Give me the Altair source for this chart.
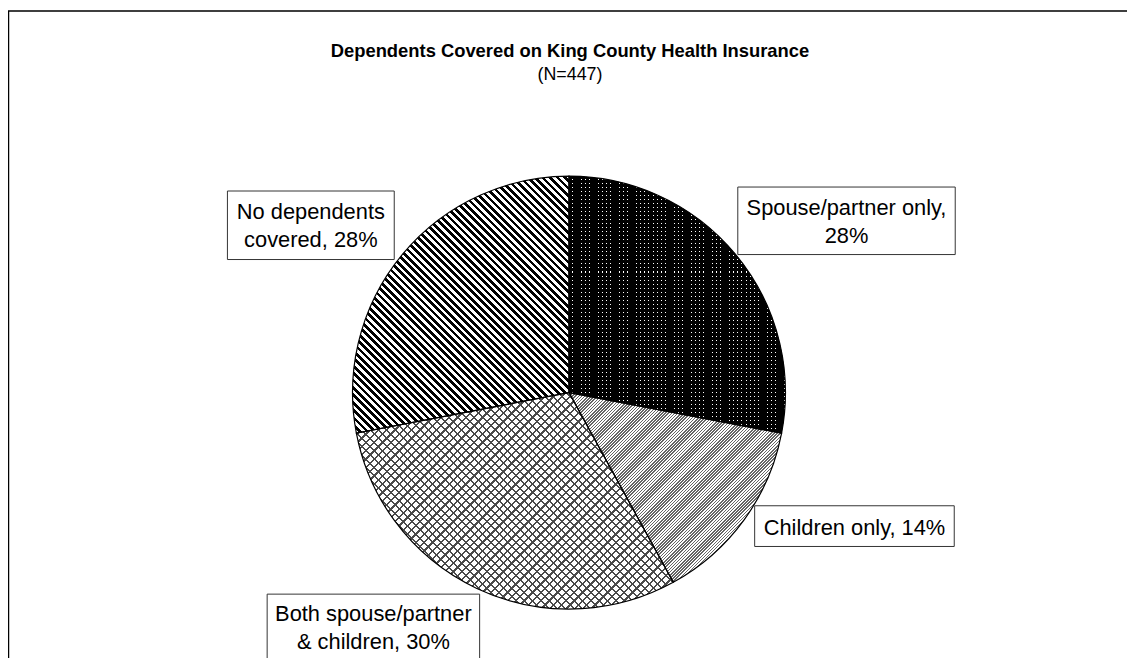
import math
import pandas as pd
import altair as alt

# ---------------- data ----------------
categories = ["Spouse/partner only", "Children only",
              "Both spouse/partner & children", "No dependents covered"]
percents = [28, 14, 30, 28]
label_texts = ["Spouse/partner only,\n28%", "Children only, 14%",
               "Both spouse/partner\n& children, 30%", "No dependents\ncovered, 28%"]
title_text = "Dependents Covered on King County Health Insurance"
subtitle_text = "(N=447)"

# ---------------- layout / style ----------------
W, H = 1127, 650
CX, CY, R = 565, 385, 218
label_boxes = [(735, 178, 954, 246), (752, 499, 953, 540),
               (261, 588, 475, 660), (221, 182, 389, 251)]
label_anchor = [(844.5, 206), (852.5, 528), (368, 615), (305, 210)]
FONT = "Liberation Sans"
CLEAR = "rgba(0,0,0,0)"
CELLS = 256  # gradient resolution used to keep stripes regular

df = pd.DataFrame({"category": categories, "pct": percents})
df["end"] = df["pct"].cumsum()
df["start"] = df["end"] - df["pct"]
total = float(df["pct"].sum())


def slice_bbox(a0, a1):
    pts = [(0.0, 0.0)]
    angs = [a0, a1] + [c for c in (0, 90, 180, 270, 360) if a0 < c < a1]
    for a in angs:
        r = math.radians(a)
        pts.append((R * math.sin(r), -R * math.cos(r)))
    xs, ys = zip(*pts)
    return max(xs) - min(xs), max(ys) - min(ys)


def stripe_grad(w, h, direction, period_cells, on_cells, on_color, off_color):
    """Hatch stripes as a hard-stop linear gradient; widths given in 1/CELLS of the gradient."""
    if direction == "h":
        coords = dict(x1=0, y1=0, x2=0, y2=1)
    elif direction == "v":
        coords = dict(x1=0, y1=0, x2=1, y2=0)
    else:
        k = (w + h) / (w * w + h * h)
        if direction == "/":
            coords = dict(x1=0, y1=0, x2=round(k * w, 6), y2=round(k * h, 6))
        else:
            coords = dict(x1=0, y1=1, x2=round(k * w, 6), y2=round(1 - k * h, 6))
    stops = []
    i = 0
    while i < CELLS:
        a = i / CELLS
        b = min(i + on_cells, CELLS) / CELLS
        c = min(i + period_cells, CELLS) / CELLS
        stops += [{"offset": round(a, 6), "color": on_color}, {"offset": round(b, 6), "color": on_color},
                  {"offset": round(b, 6), "color": off_color}, {"offset": round(c, 6), "color": off_color}]
        i += period_cells
    return {"gradient": "linear", **coords, "stops": stops}


def theta_enc():
    return dict(
        theta=alt.Theta("start:Q", scale=alt.Scale(domain=[0, total]), stack=None),
        theta2="end:Q",
        x=alt.value(CX), y=alt.value(CY),
    )


layers = []
layers.append(alt.Chart(df).mark_arc(outerRadius=R, fill="white", strokeWidth=0).encode(**theta_enc()))

patterns = {}
for cat, s, e in zip(df["category"], df["start"], df["end"]):
    w, h = slice_bbox(s / total * 360, e / total * 360)
    if cat == categories[0]:      # dark dotted
        patterns[cat] = [stripe_grad(w, h, "v", 5, 4, "#000000", CLEAR),
                         stripe_grad(w, h, "h", 4, 3, "#000000", CLEAR)]
    elif cat == categories[1]:    # fine diagonal lines
        patterns[cat] = [stripe_grad(w, h, "/", 2, 1, "#666666", CLEAR)]
    elif cat == categories[2]:    # cross hatch
        patterns[cat] = [stripe_grad(w, h, "/", 4, 1, "#4a4a4a", CLEAR),
                         stripe_grad(w, h, "\\", 4, 1, "#4a4a4a", CLEAR)]
    else:                         # wide diagonal stripes
        patterns[cat] = [stripe_grad(w, h, "\\", 4, 2, "#000000", CLEAR)]

for cat, grads in patterns.items():
    for g in grads:
        layers.append(
            alt.Chart(df).transform_filter(alt.datum.category == cat)
            .mark_arc(outerRadius=R, fill=g, strokeWidth=0)
            .encode(**theta_enc())
        )

layers.append(alt.Chart(df).mark_arc(outerRadius=R, fillOpacity=0, stroke="#000000",
                                     strokeWidth=1.2).encode(**theta_enc()))

lab = pd.DataFrame({
    "text": label_texts,
    "bx1": [b[0] for b in label_boxes], "by1": [b[1] for b in label_boxes],
    "bx2": [b[2] for b in label_boxes], "by2": [b[3] for b in label_boxes],
    "tx": [a[0] for a in label_anchor], "ty": [a[1] for a in label_anchor],
})
layers.append(alt.Chart(lab).mark_rect(fill="white", stroke="#333333", strokeWidth=1).encode(
    x=alt.X("bx1:Q", scale=None, axis=None), x2="bx2:Q",
    y=alt.Y("by1:Q", scale=None, axis=None), y2="by2:Q"))
layers.append(alt.Chart(lab).mark_text(font=FONT, fontSize=22, lineBreak="\n", lineHeight=28,
                                       align="center", baseline="alphabetic", color="#000000").encode(
    x=alt.X("tx:Q", scale=None, axis=None), y=alt.Y("ty:Q", scale=None, axis=None), text="text:N"))

tdf = pd.DataFrame({"t": [title_text]})
sdf = pd.DataFrame({"t": [subtitle_text]})
layers.append(alt.Chart(tdf).mark_text(font=FONT, fontSize=18.5, fontWeight="bold", align="center",
                                       baseline="alphabetic", color="#000000").encode(
    x=alt.value(566), y=alt.value(47), text="t:N"))
layers.append(alt.Chart(sdf).mark_text(font=FONT, fontSize=18, align="center", baseline="alphabetic",
                                       color="#000000").encode(
    x=alt.value(566), y=alt.value(70), text="t:N"))

layers.append(alt.Chart(tdf).mark_rect(fillOpacity=0, stroke="#000000", strokeWidth=1.5).encode(
    x=alt.value(0.5), y=alt.value(0.75), x2=alt.value(W + 50), y2=alt.value(H + 50)))

chart = alt.layer(*layers).properties(
    width=W, height=H, padding=0, autosize=alt.AutoSizeParams(type="none"),
    background="white",
).configure_view(strokeWidth=0)

chart.save("out.html", embed_options={"renderer": "svg", "actions": False})
